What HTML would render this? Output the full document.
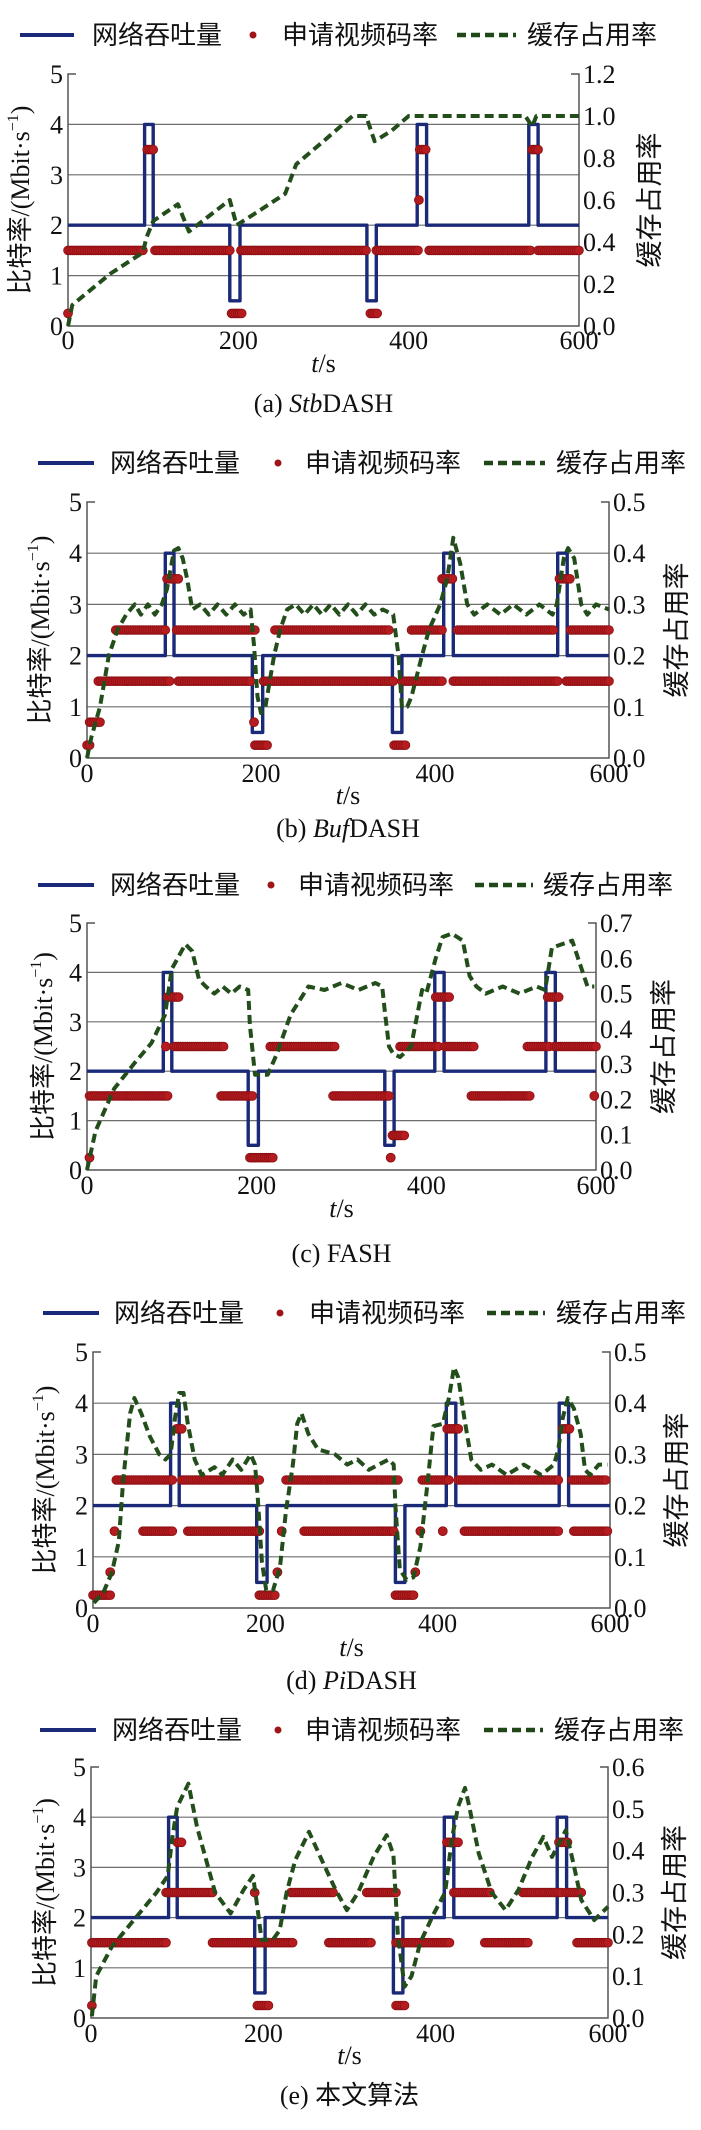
<!DOCTYPE html>
<html><head><meta charset="utf-8">
<style>
html,body{margin:0;padding:0;background:#fff;}
svg{display:block;}
text{font-family:"Liberation Serif","Noto Serif CJK SC",serif;fill:#111;}
.cjk{font-family:"Liberation Sans","Noto Sans CJK SC",sans-serif;}
</style></head>
<body>
<svg id="fig" width="701" height="2130" viewBox="0 0 701 2130" xmlns="http://www.w3.org/2000/svg"></svg>
<script>
// ---- shared data ----
const thrT = [0,90,90,100,100,190,190,202,202,351,351,362,362,410,410,421,421,541,541,552,552,600];
const thrV = [2,2,4,4,2,2,0.5,0.5,2,2,0.5,0.5,2,2,4,4,2,2,4,4,2,2];
const xTicks = [0,200,400,600];
const yTicks = [0,1,2,3,4,5];

// ---- panel (a) StbDASH ----
const bufA_t = [0,5,20,50,88,92,100,129,142,190,198,225,255,268,300,334,350,360,380,400,537,545,550,600];
const bufA_v = [0,0.1,0.15,0.25,0.35,0.42,0.5,0.58,0.45,0.6,0.48,0.55,0.63,0.77,0.88,1.0,1.0,0.88,0.93,1.0,1.0,0.95,1.0,1.0];
const rateA = [[0,0,0.25],[0,88,1.5],[93,100,3.5],[102,190,1.5],[192,204,0.25],[203,350,1.5],[355,363,0.25],[362,411,1.5],[412,412,2.5],[413,420,3.5],[424,543,1.5],[545,552,3.5],[552,600,1.5]];
const rTicksA = [0,0.2,0.4,0.6,0.8,1.0,1.2];

// ---- panel (b) BufDASH ----
const bufB_t = [0,5,15,25,35,45,55,62,70,78,86,92,100,105,110,115,121,130,140,150,160,170,180,188,192,196,200,205,210,215,222,230,240,250,260,270,280,290,300,310,320,330,340,352,358,362,368,373,385,393,406,414,421,429,437,445,460,475,490,505,520,535,540,548,553,560,568,575,585,600];
const bufB_v = [0,0.04,0.1,0.2,0.25,0.28,0.3,0.28,0.3,0.28,0.3,0.33,0.405,0.41,0.39,0.35,0.29,0.3,0.28,0.3,0.28,0.3,0.28,0.29,0.22,0.12,0.088,0.1,0.15,0.2,0.25,0.29,0.3,0.28,0.3,0.28,0.3,0.28,0.3,0.28,0.3,0.28,0.29,0.28,0.2,0.1,0.1,0.12,0.2,0.25,0.3,0.35,0.43,0.38,0.3,0.28,0.3,0.28,0.3,0.28,0.3,0.28,0.3,0.39,0.41,0.39,0.3,0.28,0.3,0.29];
const rateB = [[0,3,0.25],[3,15,0.7],[13,95,1.5],[33,90,2.5],[92,105,3.5],[103,193,2.5],[105,188,1.5],[192,192,0.7],[193,207,0.25],[203,352,1.5],[216,347,2.5],[353,366,0.25],[362,408,1.5],[373,408,2.5],[408,420,3.5],[421,541,1.5],[426,536,2.5],[543,555,3.5],[551,600,1.5],[556,600,2.5]];
const rTicksB = [0,0.1,0.2,0.3,0.4,0.5];

// ---- panel (c) FASH ----
const bufC_t = [0,10,32,55,76,92,100,116,124,132,140,150,160,170,180,190,192,198,206,213,224,240,261,280,300,320,340,348,351,356,361,369,382,395,400,411,419,430,443,451,459,470,490,510,530,540,548,572,583,590,598];
const bufC_v = [0,0.11,0.23,0.30,0.36,0.44,0.57,0.64,0.62,0.54,0.52,0.5,0.52,0.5,0.52,0.51,0.41,0.27,0.27,0.27,0.33,0.44,0.52,0.51,0.53,0.51,0.53,0.52,0.45,0.35,0.33,0.32,0.35,0.51,0.5,0.6,0.66,0.67,0.65,0.55,0.52,0.5,0.52,0.5,0.52,0.51,0.63,0.65,0.57,0.52,0.52];
const rateC = [[3,3,0.25],[3,95,1.5],[93,93,2.5],[95,108,3.5],[103,161,2.5],[158,195,1.5],[192,219,0.25],[216,292,2.5],[290,356,1.5],[358,358,0.25],[360,374,0.7],[369,414,2.5],[411,427,3.5],[422,456,2.5],[453,522,1.5],[519,545,2.5],[543,556,3.5],[551,600,2.5],[598,598,1.5]];
const rTicksC = [0,0.1,0.2,0.3,0.4,0.5,0.6,0.7];

// ---- panel (d) PiDASH ----
const bufD_t = [1,12,22,30,35,43,48,56,66,77,84,90,95,100,105,110,118,126,141,150,162,172,183,188,191,196,201,209,217,224,232,237,242,250,261,281,295,307,320,343,349,351,356,364,372,380,388,395,406,413,419,424,431,439,450,463,480,500,520,535,540,545,551,558,566,571,577,587,597];
const bufD_v = [0.01,0.03,0.07,0.13,0.25,0.38,0.41,0.38,0.335,0.3,0.29,0.3,0.37,0.42,0.42,0.36,0.29,0.26,0.275,0.26,0.29,0.27,0.3,0.28,0.22,0.09,0.035,0.035,0.08,0.19,0.28,0.36,0.38,0.34,0.31,0.3,0.28,0.29,0.27,0.29,0.28,0.2,0.075,0.055,0.06,0.12,0.24,0.355,0.36,0.41,0.47,0.45,0.37,0.29,0.27,0.28,0.26,0.28,0.26,0.28,0.31,0.37,0.41,0.39,0.34,0.27,0.26,0.28,0.28];
const rateD = [[0,20,0.25],[20,20,0.7],[25,25,1.5],[27,92,2.5],[58,92,1.5],[97,103,3.5],[103,193,2.5],[110,193,1.5],[193,211,0.25],[214,214,0.7],[219,219,1.5],[224,354,2.5],[245,349,1.5],[351,372,0.25],[374,374,0.7],[380,380,1.5],[382,413,2.5],[406,406,1.5],[411,424,3.5],[424,540,2.5],[431,540,1.5],[545,553,3.5],[556,595,2.5],[558,597,1.5]];
const rTicksD = [0,0.1,0.2,0.3,0.4,0.5];

// ---- panel (e) proposed ----
const bufE_t = [1,6,24,50,76,89,94,100,113,123,144,162,177,188,193,198,211,219,227,237,253,268,284,297,310,328,343,351,356,364,372,382,398,411,419,426,434,439,450,465,481,496,512,525,535,543,551,559,569,584,600];
const bufE_v = [0.004,0.1,0.17,0.235,0.3,0.34,0.425,0.505,0.56,0.457,0.3,0.25,0.306,0.34,0.266,0.187,0.187,0.21,0.3,0.377,0.445,0.377,0.306,0.258,0.3,0.385,0.437,0.39,0.2,0.075,0.1,0.18,0.25,0.3,0.43,0.505,0.55,0.505,0.393,0.3,0.258,0.306,0.385,0.433,0.385,0.417,0.449,0.377,0.282,0.234,0.266];
const rateE = [[1,1,0.25],[1,87,1.5],[87,141,2.5],[100,105,3.5],[141,234,1.5],[190,190,2.5],[193,206,0.25],[232,281,2.5],[276,325,1.5],[320,354,2.5],[354,416,1.5],[354,364,0.25],[413,426,3.5],[421,463,2.5],[457,507,1.5],[501,546,2.5],[543,553,3.5],[551,569,2.5],[564,600,1.5]];
const rTicksE = [0,0.1,0.2,0.3,0.4,0.5,0.6];

const panels = [
 {id:'a', L:68,R:579,T:74,B:326, rmax:1.2, rt:rTicksA, bt:bufA_t, bv:bufA_v, rate:rateA, legY:35, lab:340, ts:363, cap:403,
  leg:[20,74,92,253,282,457,516,527], yt:20, rtx:650, capParts:[['(a) ',0],['Stb',1],['DASH',0]]},
 {id:'b', L:87,R:609,T:502,B:758, rmax:0.5, rt:rTicksB, bt:bufB_t, bv:bufB_v, rate:rateB, legY:463, lab:773, ts:795, cap:828,
  leg:[38,94,110,278,305,484,545,556], yt:40, rtx:677, capParts:[['(b) ',0],['Buf',1],['DASH',0]]},
 {id:'c', L:87,R:596,T:923,B:1170, rmax:0.7, rt:rTicksC, bt:bufC_t, bv:bufC_v, rate:rateC, legY:885, lab:1185, ts:1208, cap:1253,
  leg:[38,94,110,271,298,475,533,543], yt:43, rtx:664, capParts:[['(c) FASH',0]]},
 {id:'d', L:93,R:610,T:1352,B:1608, rmax:0.5, rt:rTicksD, bt:bufD_t, bv:bufD_v, rate:rateD, legY:1313, lab:1623, ts:1647, cap:1680,
  leg:[43,99,114,280,309,487,545,556], yt:45, rtx:677, capParts:[['(d) ',0],['Pi',1],['DASH',0]]},
 {id:'e', L:91,R:608,T:1767,B:2018, rmax:0.6, rt:rTicksE, bt:bufE_t, bv:bufE_v, rate:rateE, legY:1730, lab:2033, ts:2055, cap:2095,
  leg:[40,96,112,278,305,484,543,554], yt:45, rtx:675, capParts:[['(e) ',0],['本文算法',2]]}
];

const NS='http://www.w3.org/2000/svg';
const svg=document.getElementById('fig');
function mk(tag,attrs,parent){const e=document.createElementNS(NS,tag);for(const k in attrs)e.setAttribute(k,attrs[k]);(parent||svg).appendChild(e);return e;}

panels.forEach(p=>{
  const g=mk('g',{});
  
  
  const xS=t=>p.L+(t/600)*(p.R-p.L);
  const yS=v=>p.B-(v/5)*(p.B-p.T);
  const rS=v=>p.B-(v/p.rmax)*(p.B-p.T);

  const lg=mk('g',{},g);
  
  
  const [l0,l1,t1,dx,t2,d0,d1,t3]=p.leg;
  const ly=p.legY;
  const e1=mk('line',{x1:l0,x2:l1,y1:ly,y2:ly,stroke:'#1b2a78','stroke-width':4},lg);
  
  
  const tx1=mk('text',{x:t1,y:ly+9,'font-size':26,class:'cjk'},lg);tx1.textContent='网络吞吐量';
  
  
  const e2=mk('circle',{cx:dx,cy:ly,r:3.5,fill:'#9e1418'},lg);
  
  
  const tx2=mk('text',{x:t2,y:ly+9,'font-size':26,class:'cjk'},lg);tx2.textContent='申请视频码率';
  
  
  const e3=mk('line',{x1:d0,x2:d1,y1:ly,y2:ly,stroke:'#1f4718','stroke-width':4.5,'stroke-dasharray':'9,5'},lg);
  
  
  const tx3=mk('text',{x:t3,y:ly+9,'font-size':26,class:'cjk'},lg);tx3.textContent='缓存占用率';
  
  

  [1,2,3,4].forEach(v=>{
    const gl=mk('line',{x1:p.L,x2:p.R,y1:yS(v),y2:yS(v),stroke:'#6e6e6e','stroke-width':1.2},g);
    
    
  });
  const ax=mk('path',{d:`M${p.L+8},${p.T} H${p.L} V${p.B} H${p.R} V${p.T} H${p.R-8}`,fill:'none',stroke:'#555','stroke-width':1.5},g);
  
  

  yTicks.forEach(v=>{
    const t=mk('text',{x:p.L-5,y:yS(v)+9,'font-size':26,'text-anchor':'end'},g);t.textContent=v;
    
    
  });
  p.rt.forEach(v=>{
    const t=mk('text',{x:p.R+4,y:rS(v)+9,'font-size':26},g);t.textContent=v.toFixed(1);
    
    
  });
  xTicks.forEach(v=>{
    const t=mk('text',{x:xS(v),y:p.lab+9,'font-size':26,'text-anchor':'middle'},g);t.textContent=v;
    
    
  });
  const xt=mk('text',{x:(p.L+p.R)/2,y:p.ts+9,'font-size':26,'text-anchor':'middle'},g);
  
  
  const ti=mk('tspan',{'font-style':'italic'},xt);ti.textContent='t';
  const ts2=mk('tspan',{},xt);ts2.textContent='/s';
  const cy=(p.T+p.B)/2;
  const yt=mk('text',{x:p.yt,y:cy,'font-size':26,'text-anchor':'middle',transform:`rotate(-90 ${p.yt} ${cy})`,dy:9},g);
  
  
  const ya=mk('tspan',{class:'cjk'},yt);ya.textContent='比特率';
  const yb=mk('tspan',{},yt);yb.textContent='/(Mbit·s';
  const yc=mk('tspan',{'font-size':16,dy:-11},yt);yc.textContent='−1';
  const yd=mk('tspan',{dy:11},yt);yd.textContent=')';
  const rt=mk('text',{x:p.rtx,y:cy,'font-size':27,'text-anchor':'middle',class:'cjk',transform:`rotate(-90 ${p.rtx} ${cy})`,dy:9},g);
  rt.textContent='缓存占用率';
  
  

  let d='';
  thrT.forEach((t,i)=>{d+=(i?'L':'M')+xS(t).toFixed(1)+','+yS(thrV[i]).toFixed(1);});
  const th=mk('path',{d:d,fill:'none',stroke:'#1b2a78','stroke-width':3.4,'stroke-linejoin':'round'},g);
  
  

  const dg=mk('g',{},g);
  
  
  p.rate.forEach(s=>{
    const n=Math.max(1,Math.round((s[1]-s[0])/2.5));
    for(let k=0;k<=n;k++){
      const t=s[0]+(s[1]-s[0])*(n?k/n:0);
      const c=mk('circle',{cx:xS(t).toFixed(1),cy:yS(s[2]).toFixed(1),r:4.4,fill:'#b51c20',stroke:'#8c0f12','stroke-width':0.8},dg);
      
      
    }
  });

  let bd='';
  p.bt.forEach((t,i)=>{bd+=(i?'L':'M')+xS(t).toFixed(1)+','+rS(p.bv[i]).toFixed(1);});
  const bl=mk('path',{d:bd,fill:'none',stroke:'#234d1b','stroke-width':4,'stroke-dasharray':'9,5','stroke-linejoin':'round'},g);
  
  

  const cp=mk('text',{x:(p.L+p.R)/2,y:p.cap+9,'font-size':26,'text-anchor':'middle'},g);
  
  
  p.capParts.forEach(c=>{
    const sp=mk('tspan',c[1]===1?{'font-style':'italic'}:(c[1]===2?{class:'cjk'}:{}),cp);
    sp.textContent=c[0];
  });
});
</script>
</body></html>
